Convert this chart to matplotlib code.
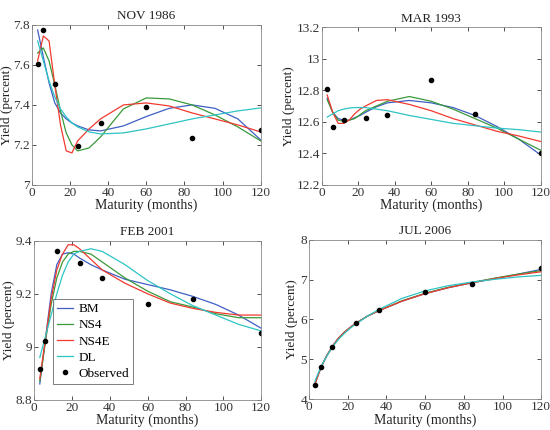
import matplotlib
matplotlib.use("Agg")
import matplotlib.pyplot as plt

plt.rcParams['font.family'] = ['Liberation Serif', 'DejaVu Serif']

obs_mat = [3, 6, 12, 24, 36, 60, 84, 120]
fit_mat = [3, 6, 9, 12, 15, 18, 21, 24, 30, 36, 48, 60, 72, 84, 96, 108, 120]

titles = ["NOV 1986", "MAR 1993", "FEB 2001", "JUL 2006"]
model_names = ["BM", "NS4", "NS4E", "DL"]
model_colors = ["#3f5fc4", "#3a9a3a", "#f03a30", "#2ec4c4"]

# NOV 1986
obs_nov86 = [7.605, 7.775, 7.505, 7.195, 7.312, 7.39, 7.237, 7.276]
bm_nov86 = [7.775, 7.64, 7.51, 7.41, 7.36, 7.33, 7.31, 7.295, 7.275, 7.27, 7.295, 7.342, 7.383, 7.40, 7.383, 7.33, 7.225]
ns4_nov86 = [7.66, 7.685, 7.62, 7.50, 7.37, 7.26, 7.20, 7.17, 7.185, 7.24, 7.38, 7.435, 7.43, 7.40, 7.35, 7.29, 7.22]
ns4e_nov86 = [7.62, 7.745, 7.72, 7.50, 7.30, 7.17, 7.16, 7.22, 7.28, 7.33, 7.40, 7.41, 7.395, 7.36, 7.33, 7.30, 7.265]
dl_nov86 = [7.72, 7.62, 7.52, 7.44, 7.38, 7.34, 7.31, 7.29, 7.265, 7.255, 7.26, 7.28, 7.305, 7.33, 7.35, 7.37, 7.385]

# MAR 1993
obs_mar93 = [12.81, 12.566, 12.613, 12.627, 12.64, 12.863, 12.65, 12.404]
bm_mar93 = [12.75, 12.66, 12.62, 12.61, 12.61, 12.625, 12.64, 12.66, 12.695, 12.72, 12.735, 12.72, 12.69, 12.64, 12.57, 12.49, 12.39]
ns4_mar93 = [12.74, 12.66, 12.61, 12.605, 12.61, 12.62, 12.645, 12.67, 12.70, 12.73, 12.76, 12.73, 12.68, 12.62, 12.56, 12.49, 12.42]
ns4e_mar93 = [12.77, 12.66, 12.59, 12.59, 12.61, 12.65, 12.68, 12.70, 12.735, 12.74, 12.71, 12.67, 12.62, 12.58, 12.54, 12.51, 12.475]
dl_mar93 = [12.63, 12.65, 12.67, 12.68, 12.687, 12.69, 12.69, 12.69, 12.68, 12.67, 12.64, 12.615, 12.59, 12.575, 12.56, 12.55, 12.535]

# FEB 2001
obs_feb01 = [8.917, 9.024, 9.362, 9.318, 9.259, 9.162, 9.181, 9.054]
bm_feb01 = [8.86, 9.03, 9.20, 9.31, 9.35, 9.355, 9.35, 9.335, 9.31, 9.29, 9.255, 9.235, 9.215, 9.19, 9.16, 9.12, 9.07]
ns4_feb01 = [8.87, 9.02, 9.16, 9.26, 9.32, 9.35, 9.36, 9.36, 9.35, 9.32, 9.26, 9.21, 9.17, 9.15, 9.125, 9.11, 9.11]
ns4e_feb01 = [8.88, 9.03, 9.18, 9.29, 9.35, 9.385, 9.385, 9.37, 9.33, 9.29, 9.24, 9.20, 9.165, 9.145, 9.13, 9.12, 9.12]
dl_feb01 = [8.96, 9.04, 9.12, 9.20, 9.27, 9.32, 9.35, 9.36, 9.37, 9.36, 9.31, 9.25, 9.20, 9.155, 9.12, 9.085, 9.06]

# JUL 2006
obs_jul06 = [4.36, 4.80, 5.31, 5.91, 6.23, 6.68, 6.89, 7.29]
bm_jul06 = [4.38, 4.78, 5.08, 5.32, 5.52, 5.67, 5.79, 5.90, 6.08, 6.22, 6.46, 6.65, 6.80, 6.92, 7.03, 7.14, 7.26]
ns4_jul06 = [4.38, 4.78, 5.08, 5.32, 5.52, 5.67, 5.79, 5.90, 6.08, 6.22, 6.47, 6.66, 6.81, 6.93, 7.04, 7.14, 7.23]
ns4e_jul06 = [4.37, 4.78, 5.08, 5.32, 5.52, 5.67, 5.79, 5.90, 6.08, 6.22, 6.46, 6.65, 6.80, 6.92, 7.03, 7.12, 7.20]
dl_jul06 = [4.45, 4.80, 5.07, 5.30, 5.49, 5.64, 5.77, 5.88, 6.08, 6.25, 6.53, 6.72, 6.85, 6.94, 7.01, 7.07, 7.11]

panels = [
    (obs_nov86, [bm_nov86, ns4_nov86, ns4e_nov86, dl_nov86]),
    (obs_mar93, [bm_mar93, ns4_mar93, ns4e_mar93, dl_mar93]),
    (obs_feb01, [bm_feb01, ns4_feb01, ns4e_feb01, dl_feb01]),
    (obs_jul06, [bm_jul06, ns4_jul06, ns4e_jul06, dl_jul06]),
]
ylims = [(7, 7.8), (12.2, 13.2), (8.8, 9.4), (4, 8)]
yticks = [[7, 7.2, 7.4, 7.6, 7.8], [12.2, 12.4, 12.6, 12.8, 13, 13.2],
          [8.8, 9, 9.2, 9.4], [4, 5, 6, 7, 8]]
ytick_labels = [["7", "7.2", "7.4", "7.6", "7.8"],
                ["12.2", "12.4", "12.6", "12.8", "13", "13.2"],
                ["8.8", "9", "9.2", "9.4"], ["4", "5", "6", "7", "8"]]
xticks = [0, 20, 40, 60, 80, 100, 120]

positions = [
    [0.058, 0.570, 0.416, 0.372],
    [0.585, 0.570, 0.398, 0.367],
    [0.062, 0.070, 0.413, 0.370],
    [0.562, 0.072, 0.422, 0.370],
]
ylabel_x = [-0.082, -0.122, -0.082, -0.047]

fig = plt.figure(figsize=(5.5, 4.3), dpi=100)
for i, (obs, fits) in enumerate(panels):
    ax = fig.add_axes(positions[i])
    handles = []
    for name, col, fit in zip(model_names, model_colors, fits):
        h, = ax.plot(fit_mat, fit, color=col, lw=0.9, label=name)
        handles.append(h)
    h, = ax.plot(obs_mat, obs, 'o', color='black', ms=3, ls='none', label='Observed')
    handles.append(h)
    ax.set_xlim(0, 120)
    ax.set_ylim(*ylims[i])
    ax.set_xticks(xticks)
    ax.set_yticks(yticks[i])
    ax.set_yticklabels(ytick_labels[i])
    ax.tick_params(direction='in', top=True, right=True, labelsize=9.5,
                   length=3, width=0.6, colors='#333333', pad=1.5)
    for s in ax.spines.values():
        s.set_color('#888888')
        s.set_linewidth(0.6)
    ax.set_title(titles[i], fontsize=9.5, pad=4, color='#222222')
    ax.set_xlabel("Maturity (months)", fontsize=10, labelpad=0, color='#222222')
    ax.set_ylabel("Yield (percent)", fontsize=9.5, color='#222222')
    ax.yaxis.set_label_coords(ylabel_x[i], 0.5)
    if i == 2:
        leg = ax.legend(handles=handles, loc='lower left', bbox_to_anchor=(0.085, 0.10),
                        fontsize=9.5, frameon=True, fancybox=False, handlelength=1.2,
                        handletextpad=0.4, borderpad=0.3, labelspacing=0.3,
                        borderaxespad=0)
        leg.get_frame().set_edgecolor('#444444')
        leg.get_frame().set_linewidth(0.6)

fig.savefig("out.png", dpi=100)
